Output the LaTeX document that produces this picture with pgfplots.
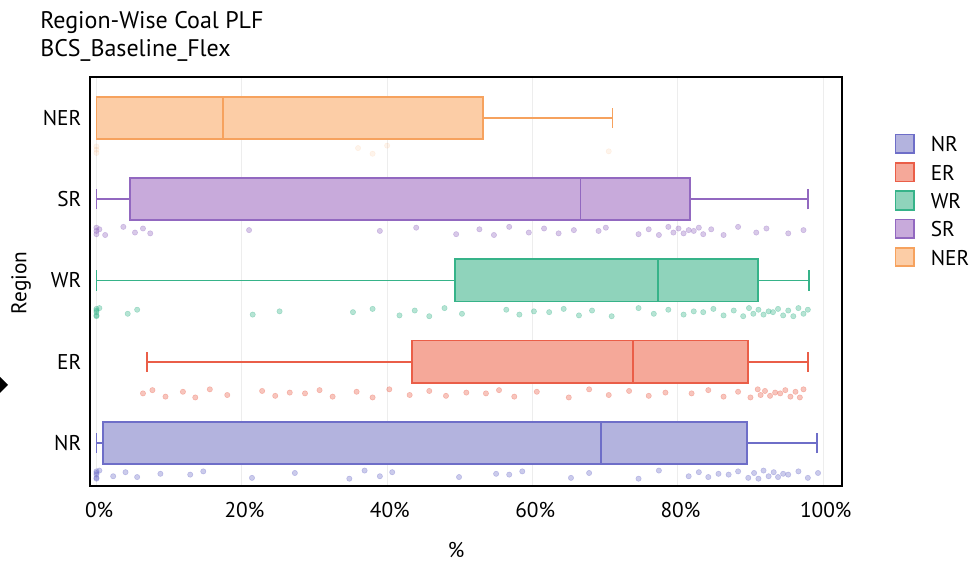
\documentclass[border=0pt]{standalone}
\usepackage{pgfplots}
\pgfplotsset{compat=1.18}
\usepgfplotslibrary{statistics}
\usepackage{fontspec}
\setmainfont{PT Sans}
\definecolor{nrline}{HTML}{6E6EC8}
\definecolor{nrfill}{HTML}{B3B3DE}
\definecolor{erline}{HTML}{EA5E48}
\definecolor{erfill}{HTML}{F5A899}
\definecolor{wrline}{HTML}{36B389}
\definecolor{wrfill}{HTML}{8FD3BB}
\definecolor{srline}{HTML}{9268C0}
\definecolor{srfill}{HTML}{C8AADB}
\definecolor{nerline}{HTML}{F6A25E}
\definecolor{nerfill}{HTML}{FCCDA6}
\pgfplotsset{
  jit/.style={forget plot, only marks, mark=*, mark size=2pt, color=#1, mark options={draw=none, fill=#1}, opacity=0.36},
}
\begin{document}
\fontsize{16}{19}\selectfont
\begin{tikzpicture}
\path[use as bounding box] (0,0) rectangle (733.5pt,422.25pt);
\begin{axis}[
  at={(67.5pt,57.75pt)}, anchor=south west,
  width=564pt, height=306.75pt, scale only axis,
  xmin=-0.89, xmax=102.6, ymin=-0.53, ymax=4.505,
  xtick={0,20,40,60,80,100},
  xticklabels={0\%,20\%,40\%,60\%,80\%,100\%},
  ytick={0,1,2,3,4},
  yticklabels={NR,ER,WR,SR,NER},
  major tick length=0pt,
  axis line style={line width=1.5pt, black},
  xmajorgrids, grid style={black!7, line width=0.6pt},
  xticklabel style={yshift=-7pt, xshift=2pt},
  yticklabel style={xshift=-1pt},
  tick label style={font=\fontsize{16}{19}\selectfont},
  legend style={at={(1.0697,0.863)}, anchor=north west, draw=none, fill=none,
    inner sep=0pt, row sep=5.2pt, column sep=9.75pt,
    nodes={inner sep=2pt, text height=12pt, text depth=0pt},
    font=\fontsize{16}{19}\selectfont},
  legend cell align=left,
  legend image code/.code={\draw[#1, line width=1.3pt] (0pt,-7pt) rectangle (14pt,7pt);},
]
% jittered points
\addplot[jit=nrline] table {
0 -0.39
0 -0.35
0 -0.43
0 -0.37
0 -0.44
0.4 -0.34
2.3 -0.41
4.0 -0.36
5.6 -0.42
8.8 -0.38
12.9 -0.39
14.7 -0.35
21.4 -0.43
27.3 -0.37
34.8 -0.44
36.9 -0.34
39.0 -0.41
40.7 -0.36
49.9 -0.42
55.0 -0.38
56.8 -0.39
58.6 -0.35
65.3 -0.43
67.8 -0.37
74.6 -0.44
77.4 -0.34
81.5 -0.41
82.9 -0.36
84.2 -0.42
85.6 -0.38
87.0 -0.39
88.3 -0.35
89.7 -0.43
90.5 -0.37
91.1 -0.44
91.8 -0.34
92.5 -0.41
93.2 -0.36
93.8 -0.42
94.5 -0.38
95.2 -0.39
96.6 -0.35
97.9 -0.43
99.3 -0.37
};
\addplot[jit=erline] table {
6.4 0.61
7.7 0.65
9.5 0.57
11.9 0.63
13.6 0.56
15.6 0.66
18.0 0.59
22.8 0.64
24.6 0.58
26.6 0.62
28.7 0.61
30.7 0.65
32.5 0.57
35.8 0.63
38.0 0.56
40.3 0.66
43.1 0.59
45.8 0.64
48.1 0.58
50.9 0.62
53.6 0.61
55.4 0.65
57.5 0.57
60.6 0.63
65.0 0.56
67.8 0.66
70.5 0.59
73.3 0.64
76.0 0.58
78.3 0.62
81.9 0.61
84.2 0.65
86.3 0.57
88.3 0.63
90.0 0.56
91.0 0.66
91.4 0.59
92.0 0.64
92.7 0.58
93.4 0.62
94.1 0.61
94.8 0.65
95.5 0.57
96.2 0.63
96.8 0.56
97.3 0.66
};
\addplot[jit=wrline] table {
0 1.61
0 1.65
0 1.57
0 1.63
0 1.56
0.4 1.66
4.3 1.59
5.6 1.64
21.5 1.58
25.2 1.62
35.3 1.61
38.0 1.65
41.7 1.57
43.8 1.63
45.8 1.56
47.9 1.66
50.3 1.59
56.4 1.64
58.2 1.58
60.2 1.62
62.3 1.61
64.3 1.65
66.4 1.57
68.2 1.63
70.9 1.56
74.6 1.66
76.7 1.59
78.7 1.64
80.8 1.58
82.2 1.62
83.5 1.61
84.9 1.65
86.3 1.57
87.7 1.63
89.0 1.56
89.8 1.66
90.4 1.59
91.1 1.64
91.8 1.58
92.5 1.62
93.1 1.61
93.8 1.65
94.5 1.57
95.2 1.63
95.9 1.56
96.6 1.66
97.3 1.59
97.9 1.64
};
\addplot[jit=srline] table {
0 2.61
0 2.65
0 2.57
0.4 2.63
1.2 2.56
3.7 2.66
5.3 2.59
6.4 2.64
7.4 2.58
21.0 2.62
39.0 2.61
44.0 2.65
49.5 2.57
52.7 2.63
54.7 2.56
56.8 2.66
59.5 2.59
61.6 2.64
63.6 2.58
65.7 2.62
69.1 2.61
70.1 2.65
74.6 2.57
76.0 2.63
77.4 2.56
78.7 2.66
79.4 2.59
80.1 2.64
80.8 2.58
81.5 2.62
82.2 2.61
82.9 2.65
83.5 2.57
84.6 2.63
86.3 2.56
88.3 2.66
90.8 2.59
92.2 2.64
95.2 2.58
97.3 2.62
};
\addplot[jit=nerline, opacity=0.12] table {
0 3.61
0 3.65
0 3.57
36.0 3.63
38.0 3.56
40.0 3.66
70.5 3.59
};
% boxes
\addplot[forget plot, line width=1.3pt, draw=nrline, boxplot/every box/.style={fill=nrfill},
  boxplot prepared={lower whisker=0, lower quartile=0.9, median=69.4, upper quartile=89.5, upper whisker=99.2, draw position=0, box extend=0.52, whisker extend=0.25}] coordinates {};
\addplot[forget plot, line width=1.3pt, draw=erline, boxplot/every box/.style={fill=erfill},
  boxplot prepared={lower whisker=7.0, lower quartile=43.4, median=73.8, upper quartile=89.7, upper whisker=97.9, draw position=1, box extend=0.52, whisker extend=0.25}] coordinates {};
\addplot[forget plot, line width=1.3pt, draw=wrline, boxplot/every box/.style={fill=wrfill},
  boxplot prepared={lower whisker=0, lower quartile=49.3, median=77.3, upper quartile=91.0, upper whisker=98.1, draw position=2, box extend=0.52, whisker extend=0.25}] coordinates {};
\addplot[forget plot, line width=1.3pt, draw=srline, boxplot/every box/.style={fill=srfill},
  boxplot prepared={lower whisker=0, lower quartile=4.6, median=66.6, upper quartile=81.7, upper whisker=97.9, draw position=3, box extend=0.52, whisker extend=0.25}] coordinates {};
\addplot[forget plot, line width=1.3pt, draw=nerline, boxplot/every box/.style={fill=nerfill},
  boxplot prepared={lower whisker=0, lower quartile=0, median=17.4, upper quartile=53.2, upper whisker=71.0, draw position=4, box extend=0.52, whisker extend=0.25}] coordinates {};
\addlegendimage{draw=nrline, fill=nrfill}\addlegendentry{NR}
\addlegendimage{draw=erline, fill=erfill}\addlegendentry{ER}
\addlegendimage{draw=wrline, fill=wrfill}\addlegendentry{WR}
\addlegendimage{draw=srline, fill=srfill}\addlegendentry{SR}
\addlegendimage{draw=nerline, fill=nerfill}\addlegendentry{NER}
\end{axis}
\node[anchor=base west, inner sep=0pt, font=\fontsize{18}{21}\selectfont] at (30pt,400.5pt) {Region-Wise Coal PLF};
\node[anchor=base west, inner sep=0pt, font=\fontsize{18}{21}\selectfont] at (30pt,379.5pt) {BCS\_Baseline\_Flex};
\node[rotate=90, inner sep=0pt] at (15.75pt,210pt) {Region};
\node[inner sep=0pt] at (342pt,9.75pt) {\%};
\fill (0pt,139.5pt) -- (6pt,133.5pt) -- (0pt,127.5pt) -- cycle;
\end{tikzpicture}
\end{document}
